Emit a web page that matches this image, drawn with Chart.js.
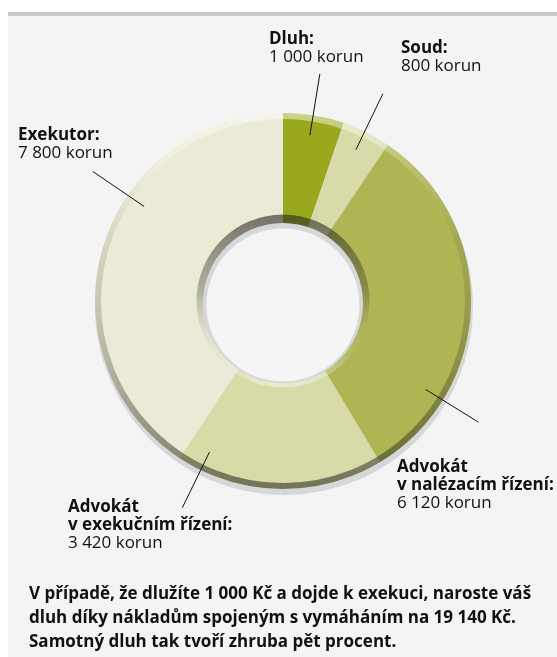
<!DOCTYPE html>
<html lang="cs">
<head>
<meta charset="utf-8">
<title>Náklady exekuce</title>
<script src="https://cdn.jsdelivr.net/npm/chart.js@4"></script>
<style>
  html, body { margin: 0; padding: 0; background: #fff; }
  .frame { position: relative; width: 557px; height: 657px; overflow: hidden; }
  .panel {
    position: absolute; left: 8px; top: 12px; right: 0; bottom: 0;
    background: #f4f4f4; border-top: 4px solid #c8c8c9;
  }
  #costChart { position: absolute; left: 0; top: 0; }
  .note {
    position: absolute; left: 29px; top: 581px; margin: 0;
    font: bold 17px/24px "Open Sans", sans-serif; color: #111;
    white-space: nowrap;
  }
</style>
</head>
<body>
<div class="frame">
  <div class="panel"></div>
  <canvas id="costChart" width="557" height="657"></canvas>
  <p class="note">V případě, že dlužíte 1 000 Kč a dojde k exekuci, naroste váš<br>dluh díky nákladům spojeným s vymáháním na 19 140 Kč.<br>Samotný dluh tak tvoří zhruba pět procent.</p>
</div>

<script>
// data
const categories = ['Dluh', 'Soud', 'Advokát v nalézacím řízení', 'Advokát v exekučním řízení', 'Exekutor'];
const amounts = [1000, 800, 6120, 3420, 7800];
const labelTitles = [['Dluh:'], ['Soud:'], ['Advokát', 'v nalézacím řízení:'], ['Advokát', 'v exekučním řízení:'], ['Exekutor:']];

// styling
const sliceColors = ['#9aa81d', '#d8dba9', '#aeb552', '#d8dba8', '#ebead6'];
const labelAnchors = [[269, 44], [401, 53], [397, 472], [68, 512], [18, 140]]; // x, first baseline
const leaderAt = [0.49, 0.46, 0.764, 0.886, 0.62]; // where the leader sits inside each slice
const LINE_STEP = 18;

const formatKorun = (v) => String(v).replace(/\B(?=(\d{3})+(?!\d))/g, ' ') + ' korun';

const decor = {
  id: 'decor',
  beforeDatasetsDraw(chart) {
    const { x, y, outerRadius } = chart.getDatasetMeta(0).data[0];
    const ctx = chart.ctx;
    // soft drop shadow under the ring
    ctx.save();
    ctx.fillStyle = '#d6d7d9';
    ctx.beginPath();
    ctx.arc(x + 1, y + 5, outerRadius + 1, 0, Math.PI * 2);
    ctx.fill();
    ctx.restore();
  },
  afterDatasetsDraw(chart) {
    const arcs = chart.getDatasetMeta(0).data;
    const { x, y, outerRadius, innerRadius } = arcs[0];
    const ctx = chart.ctx;
    ctx.save();

    // outer rim: light at the top, dark at the bottom
    const rim = ctx.createLinearGradient(0, y - outerRadius, 0, y + outerRadius);
    rim.addColorStop(0, 'rgba(255,255,255,0.5)');
    rim.addColorStop(0.15, 'rgba(255,255,255,0.15)');
    rim.addColorStop(0.35, 'rgba(90,90,70,0.15)');
    rim.addColorStop(0.6, 'rgba(70,70,50,0.28)');
    rim.addColorStop(1, 'rgba(40,40,30,0.58)');
    ctx.strokeStyle = rim;
    ctx.lineWidth = 6;
    ctx.beginPath();
    ctx.arc(x, y, outerRadius - 3, 0, Math.PI * 2);
    ctx.stroke();

    // inner bevel around the hole
    const bevelR = innerRadius + 9.5;
    const bevel = ctx.createLinearGradient(0, y - bevelR, 0, y + bevelR);
    bevel.addColorStop(0, 'rgba(40,40,30,0.62)');
    bevel.addColorStop(0.45, 'rgba(70,70,60,0.35)');
    bevel.addColorStop(0.75, 'rgba(200,200,190,0.15)');
    bevel.addColorStop(1, 'rgba(255,255,255,0.45)');
    ctx.fillStyle = bevel;
    ctx.beginPath();
    ctx.arc(x, y, bevelR, 0, Math.PI * 2);
    ctx.fill();

    ctx.fillStyle = '#d6d7da';
    ctx.beginPath();
    ctx.arc(x, y + 2, innerRadius + 3, 0, Math.PI * 2);
    ctx.fill();

    ctx.fillStyle = '#f5f5f5';
    ctx.beginPath();
    ctx.arc(x, y + 4, innerRadius - 0.5, 0, Math.PI * 2);
    ctx.fill();

    // leader lines
    ctx.strokeStyle = '#111';
    ctx.lineWidth = 1;
    arcs.forEach((arc, i) => {
      const a = arc.startAngle + leaderAt[i] * (arc.endAngle - arc.startAngle);
      const r0 = outerRadius - 20;
      const r1 = outerRadius + 42;
      ctx.beginPath();
      ctx.moveTo(x + r0 * Math.cos(a), y + r0 * Math.sin(a));
      ctx.lineTo(x + r1 * Math.cos(a), y + r1 * Math.sin(a));
      ctx.stroke();
    });

    // labels
    ctx.fillStyle = '#111';
    ctx.textBaseline = 'alphabetic';
    ctx.textAlign = 'left';
    labelTitles.forEach((lines, i) => {
      const [lx, ly] = labelAnchors[i];
      ctx.font = 'bold 17px "Open Sans", sans-serif';
      lines.forEach((t, k) => ctx.fillText(t, lx, ly + k * LINE_STEP));
      ctx.font = '17px "Open Sans", sans-serif';
      ctx.fillText(formatKorun(amounts[i]), lx, ly + lines.length * LINE_STEP);
    });
    ctx.restore();
  }
};

new Chart(document.getElementById('costChart'), {
  type: 'doughnut',
  data: {
    labels: categories,
    datasets: [{
      data: amounts,
      backgroundColor: sliceColors,
      borderWidth: 0,
      hoverOffset: 0
    }]
  },
  options: {
    responsive: false,
    devicePixelRatio: 1,
    animation: false,
    cutout: 77,
    layout: { padding: { left: 95, right: 86, top: 113, bottom: 168 } },
    plugins: {
      legend: { display: false },
      tooltip: { enabled: false }
    }
  },
  plugins: [decor]
});
</script>
</body>
</html>
